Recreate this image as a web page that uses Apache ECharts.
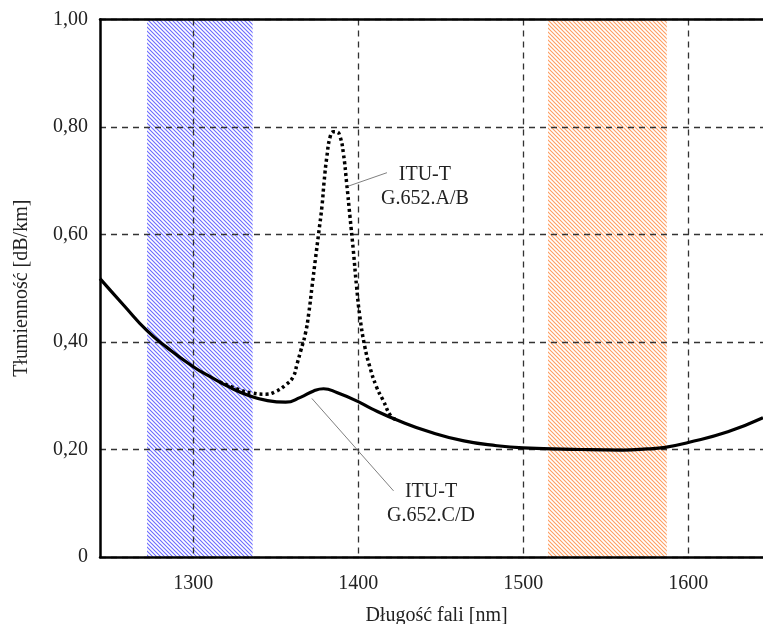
<!DOCTYPE html>
<html>
<head>
<meta charset="utf-8">
<style>
html,body{margin:0;padding:0;background:#fff;}
#chart{width:763px;height:624px;}
</style>
<script src="https://cdn.jsdelivr.net/npm/echarts@6/dist/echarts.min.js"></script>
</head>
<body>
<div id="chart"></div>
<script>
// ---- data ----
const xTicks = [1300, 1400, 1500, 1600];
const yTicks = [0, 0.2, 0.4, 0.6, 0.8, 1.0];
// G.652.C/D (solid) : wavelength [nm], attenuation [dB/km]
const cdWavelength = [1243.5, 1258, 1272, 1284, 1300, 1310, 1322, 1334, 1345, 1356, 1365, 1373, 1379, 1387, 1400, 1408, 1425, 1444, 1464, 1484, 1500, 1535, 1560, 1575, 1586, 1600, 1624, 1645.3];
const cdAtten      = [0.518, 0.468, 0.421, 0.390, 0.354, 0.336, 0.316, 0.300, 0.291, 0.288, 0.297, 0.309, 0.313, 0.306, 0.289, 0.276, 0.253, 0.232, 0.216, 0.207, 0.203, 0.200, 0.199, 0.201, 0.204, 0.213, 0.233, 0.259];
// G.652.A/B (dotted) water peak
const abWavelength = [1316, 1328, 1336, 1344, 1350, 1356, 1360.5, 1363, 1365, 1368, 1370, 1372, 1374, 1376, 1378, 1379.4, 1381, 1383, 1385, 1387, 1389, 1391, 1393, 1395, 1397, 1399, 1401, 1404, 1407, 1411, 1415, 1420, 1423];
const abAtten      = [0.326, 0.311, 0.305, 0.303, 0.308, 0.320, 0.335, 0.360, 0.382, 0.416, 0.453, 0.503, 0.553, 0.602, 0.652, 0.701, 0.745, 0.782, 0.791, 0.791, 0.782, 0.751, 0.695, 0.633, 0.571, 0.503, 0.447, 0.391, 0.354, 0.317, 0.292, 0.261, 0.256];
// transmission bands [start, end] nm
const bandStart = [1272, 1515];
const bandEnd   = [1336, 1587];
const bandColor = ['#6a6aff', '#ff9e60'];
// annotations
const annoText = ['ITU-T\nG.652.A/B', 'ITU-T\nG.652.C/D'];
const annoX = [1440.4, 1444.1];
const annoY = [0.688, 0.100];
const leaderFromX = [1394.0, 1371.9];
const leaderFromY = [0.690, 0.295];
const leaderToX = [1417.4, 1421.4];
const leaderToY = [0.715, 0.123];

const xMin = 1243.5, xMax = 1645.3;

function hatch(color) {
  const c = document.createElement('canvas');
  c.width = 4; c.height = 4;
  const g = c.getContext('2d');
  g.fillStyle = '#ffffff';
  g.fillRect(0, 0, 4, 4);
  g.strokeStyle = color;
  g.lineWidth = 1.1;
  g.beginPath();
  g.moveTo(-1, -1); g.lineTo(5, 5);
  g.moveTo(-5, -1); g.lineTo(1, 5);
  g.moveTo(3, -1); g.lineTo(9, 5);
  g.stroke();
  return c;
}
const patterns = bandColor.map(hatch);

const FONT = "'Liberation Serif', 'Times New Roman', serif";
const chart = echarts.init(document.getElementById('chart'), null, {renderer: 'canvas'});

const gridDash = {color: '#333', width: 1.3, type: [6, 5]};

const option = {
  animation: false,
  backgroundColor: '#fff',
  grid: {left: 100, right: 0, top: 19.5, bottom: 67, containLabel: false, outerBoundsMode: 'none'},
  xAxis: [{
    type: 'value', min: xMin, max: xMax, z: 3,
    name: 'Długość fali [nm]', nameLocation: 'middle', nameGap: 49,
    nameTextStyle: {fontFamily: FONT, fontSize: 20, color: '#222', padding: [0, 0, 0, 10]},
    axisLine: {show: true, onZero: false, lineStyle: {color: '#000', width: 2.5}},
    axisTick: {show: false, customValues: xTicks},
    axisLabel: {customValues: xTicks, fontFamily: FONT, fontSize: 20, color: '#222', margin: 17,
      formatter: v => String(v)},
    splitLine: {show: true, lineStyle: gridDash}
  }, {
    type: 'value', min: xMin, max: xMax, position: 'top', z: 3,
    axisLine: {show: true, onZero: false, lineStyle: {color: '#000', width: 2.5}},
    axisTick: {show: false}, axisLabel: {show: false}, splitLine: {show: false}
  }],
  yAxis: {
    type: 'value', min: 0, max: 1, interval: 0.2, z: 3,
    name: 'Tłumienność [dB/km]', nameLocation: 'middle', nameGap: 68,
    nameTextStyle: {fontFamily: FONT, fontSize: 20, color: '#222'},
    axisLine: {show: true, onZero: false, lineStyle: {color: '#000', width: 2.5}},
    axisTick: {show: false},
    axisLabel: {fontFamily: FONT, fontSize: 20, color: '#222', margin: 12,
      formatter: v => v === 0 ? '0' : v.toFixed(2).replace('.', ',')},
    splitLine: {show: true, lineStyle: gridDash}
  },
  series: [{
    type: 'custom', z: 1, silent: true,
    data: bandStart.map((s, i) => [s, bandEnd[i], i]),
    renderItem: function (params, api) {
      const p0 = api.coord([api.value(0), 1]);
      const p1 = api.coord([api.value(1), 0]);
      const i = api.value(2);
      return {
        type: 'rect',
        shape: {x: p0[0], y: p0[1], width: p1[0] - p0[0], height: p1[1] - p0[1]},
        style: {fill: {image: patterns[i], repeat: 'repeat'}}
      };
    }
  }, {
    name: 'ITU-T G.652.C/D', type: 'line', z: 5,
    data: cdWavelength.map((w, i) => [w, cdAtten[i]]),
    smooth: 0.5, showSymbol: false,
    lineStyle: {color: '#000', width: 3.2}
  }, {
    name: 'ITU-T G.652.A/B', type: 'line', z: 5,
    data: abWavelength.map((w, i) => [w, abAtten[i]]),
    smooth: 0.5, showSymbol: false,
    lineStyle: {color: '#000', width: 3.5, type: [3, 3]}
  }, {
    type: 'custom', z: 6, silent: true,
    data: annoText.map((t, i) => [leaderFromX[i], leaderFromY[i], leaderToX[i], leaderToY[i], annoX[i], annoY[i], i]),
    renderItem: function (params, api) {
      const a = api.coord([api.value(0), api.value(1)]);
      const b = api.coord([api.value(2), api.value(3)]);
      const t = api.coord([api.value(4), api.value(5)]);
      return {
        type: 'group',
        children: [{
          type: 'line', shape: {x1: a[0], y1: a[1], x2: b[0], y2: b[1]},
          style: {stroke: '#808080', lineWidth: 1}
        }, {
          type: 'text', x: t[0], y: t[1],
          style: {text: annoText[api.value(6)], fontFamily: FONT, fontSize: 20, fill: '#222',
            align: 'center', verticalAlign: 'middle', lineHeight: 24}
        }]
      };
    }
  }]
};
chart.setOption(option);
</script>
</body>
</html>
